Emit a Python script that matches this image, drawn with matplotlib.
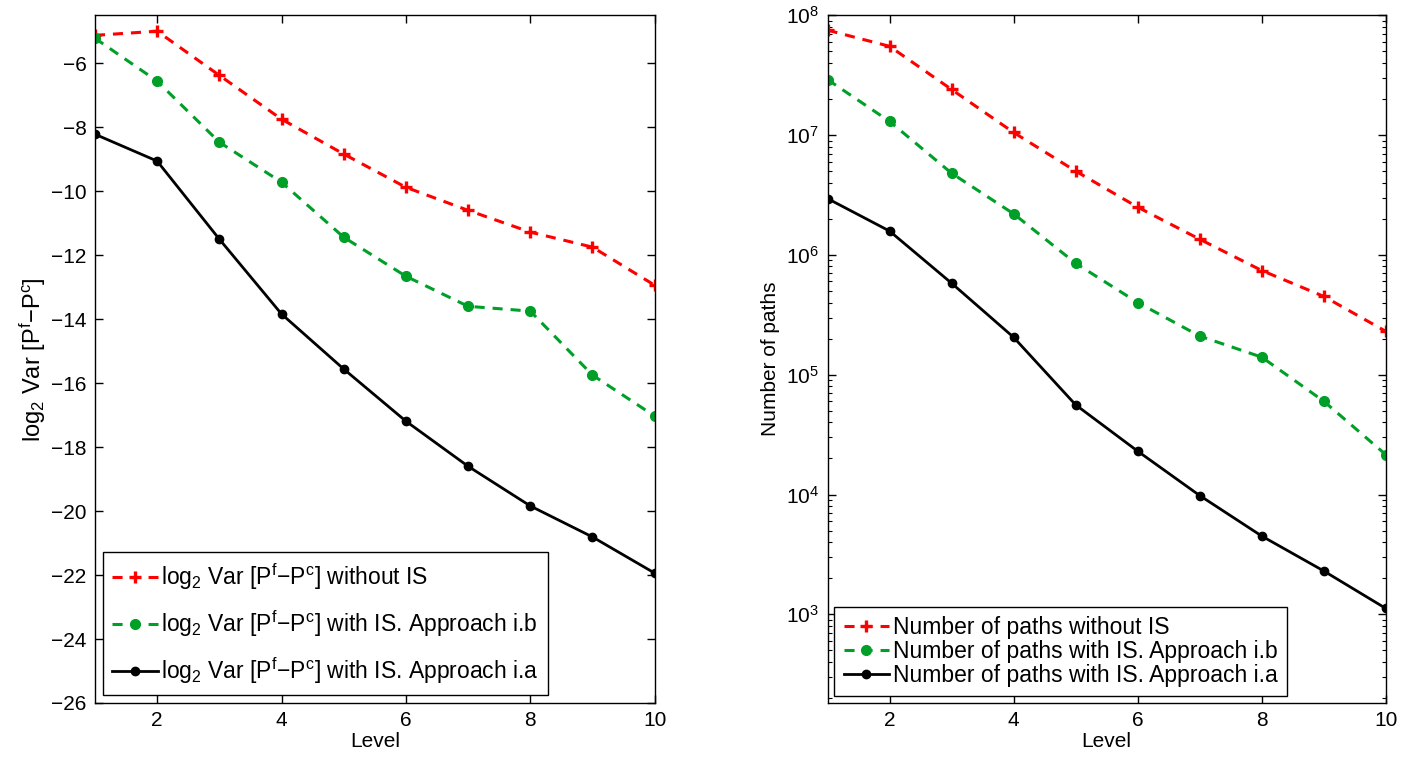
import numpy as np
import matplotlib
matplotlib.use("Agg")
import matplotlib.pyplot as plt
from matplotlib.ticker import LogLocator, NullFormatter

plt.rcParams.update({"font.family": "Liberation Sans", "font.size": 15,
                     "mathtext.default": "regular", "axes.linewidth": 1.0,
                     "xtick.direction": "in", "ytick.direction": "in",
                     "xtick.top": True, "ytick.right": True})

levels = np.arange(1, 11)

# left panel: log2 variance of P^f - P^c
var_no_is = [-5.13, -5.0, -6.38, -7.75, -8.84, -9.88, -10.6, -11.28, -11.75, -12.94]
var_is_b = [-5.22, -6.56, -8.47, -9.72, -11.44, -12.66, -13.6, -13.75, -15.75, -17.03]
var_is_a = [-8.22, -9.06, -11.5, -13.84, -15.56, -17.19, -18.6, -19.84, -20.81, -21.94]

# right panel: number of paths
paths_no_is = [7.5e7, 5.5e7, 2.4e7, 1.05e7, 5.0e6, 2.5e6, 1.35e6, 7.4e5, 4.5e5, 2.3e5]
paths_is_b = [2.9e7, 1.3e7, 4.8e6, 2.2e6, 8.5e5, 4.0e5, 2.1e5, 1.4e5, 6.0e4, 2.15e4]
paths_is_a = [2.95e6, 1.58e6, 5.8e5, 2.05e5, 5.6e4, 2.3e4, 9.8e3, 4.5e3, 2.3e3, 1.12e3]

RED = "#ff0000"; GREEN = "#00a028"; BLACK = "#000000"
DASH = (0, (3.3, 2.6))
VL = r"log$_2$ Var [P$^f$$-$P$^c$]"

fig = plt.figure(figsize=(14.17, 7.6), dpi=100)
ax1 = fig.add_axes([0.067, 0.075, 0.395, 0.905])
ax2 = fig.add_axes([0.584, 0.075, 0.394, 0.905])

ax1.plot(levels, var_no_is, color=RED, ls=DASH, lw=2.2, marker="+", ms=9, mew=2.4,
         label=VL + " without IS")
ax1.plot(levels, var_is_b, color=GREEN, ls=DASH, lw=2.2, marker="o", ms=7,
         label=VL + " with IS. Approach i.b")
ax1.plot(levels, var_is_a, color=BLACK, ls="-", lw=2, marker="o", ms=6,
         label=VL + " with IS. Approach i.a")
ax1.set_xlim(1, 10); ax1.set_ylim(-26, -4.5)
ax1.set_xticks([2, 4, 6, 8, 10])
ax1.set_yticks(np.arange(-26, -5, 2))
ax1.set_yticklabels([f"\u2212{abs(v)}" for v in range(-26, -5, 2)])
ax1.set_xlabel("Level", labelpad=1)
ax1.set_ylabel(VL, fontsize=17, labelpad=2)
leg1 = ax1.legend(loc="lower left", fontsize=16.5,
                  handlelength=2.0, handletextpad=0.15, borderaxespad=0.35,
                  labelspacing=0.7, fancybox=False, edgecolor="black", framealpha=1)
leg1.get_frame().set_linewidth(1.0)

ax2.semilogy(levels, paths_no_is, color=RED, ls=DASH, lw=2.2, marker="+", ms=9, mew=2.4,
             label="Number of paths without IS")
ax2.semilogy(levels, paths_is_b, color=GREEN, ls=DASH, lw=2.2, marker="o", ms=7,
             label="Number of paths with IS. Approach i.b")
ax2.semilogy(levels, paths_is_a, color=BLACK, ls="-", lw=2, marker="o", ms=6,
             label="Number of paths with IS. Approach i.a")
ax2.set_xlim(1, 10); ax2.set_ylim(10 ** 2.26, 1e8)
ax2.set_xticks([2, 4, 6, 8, 10])
ax2.yaxis.set_major_locator(LogLocator(base=10, numticks=10))
ax2.yaxis.set_minor_locator(LogLocator(base=10, subs=np.arange(2, 10), numticks=50))
ax2.yaxis.set_minor_formatter(NullFormatter())
ax2.set_xlabel("Level", labelpad=1)
ax2.set_ylabel("Number of paths", labelpad=4)
leg2 = ax2.legend(loc="lower left", fontsize=16.5,
                  handlelength=2.0, handletextpad=0.15, borderaxespad=0.3,
                  labelspacing=0.05, fancybox=False, edgecolor="black", framealpha=1)
leg2.get_frame().set_linewidth(1.0)

for ax in (ax1, ax2):
    ax.tick_params(which="major", length=6, width=1, pad=6)
    ax.tick_params(which="minor", length=3, width=0.8)

fig.savefig("out.png", dpi=100, facecolor="white")
